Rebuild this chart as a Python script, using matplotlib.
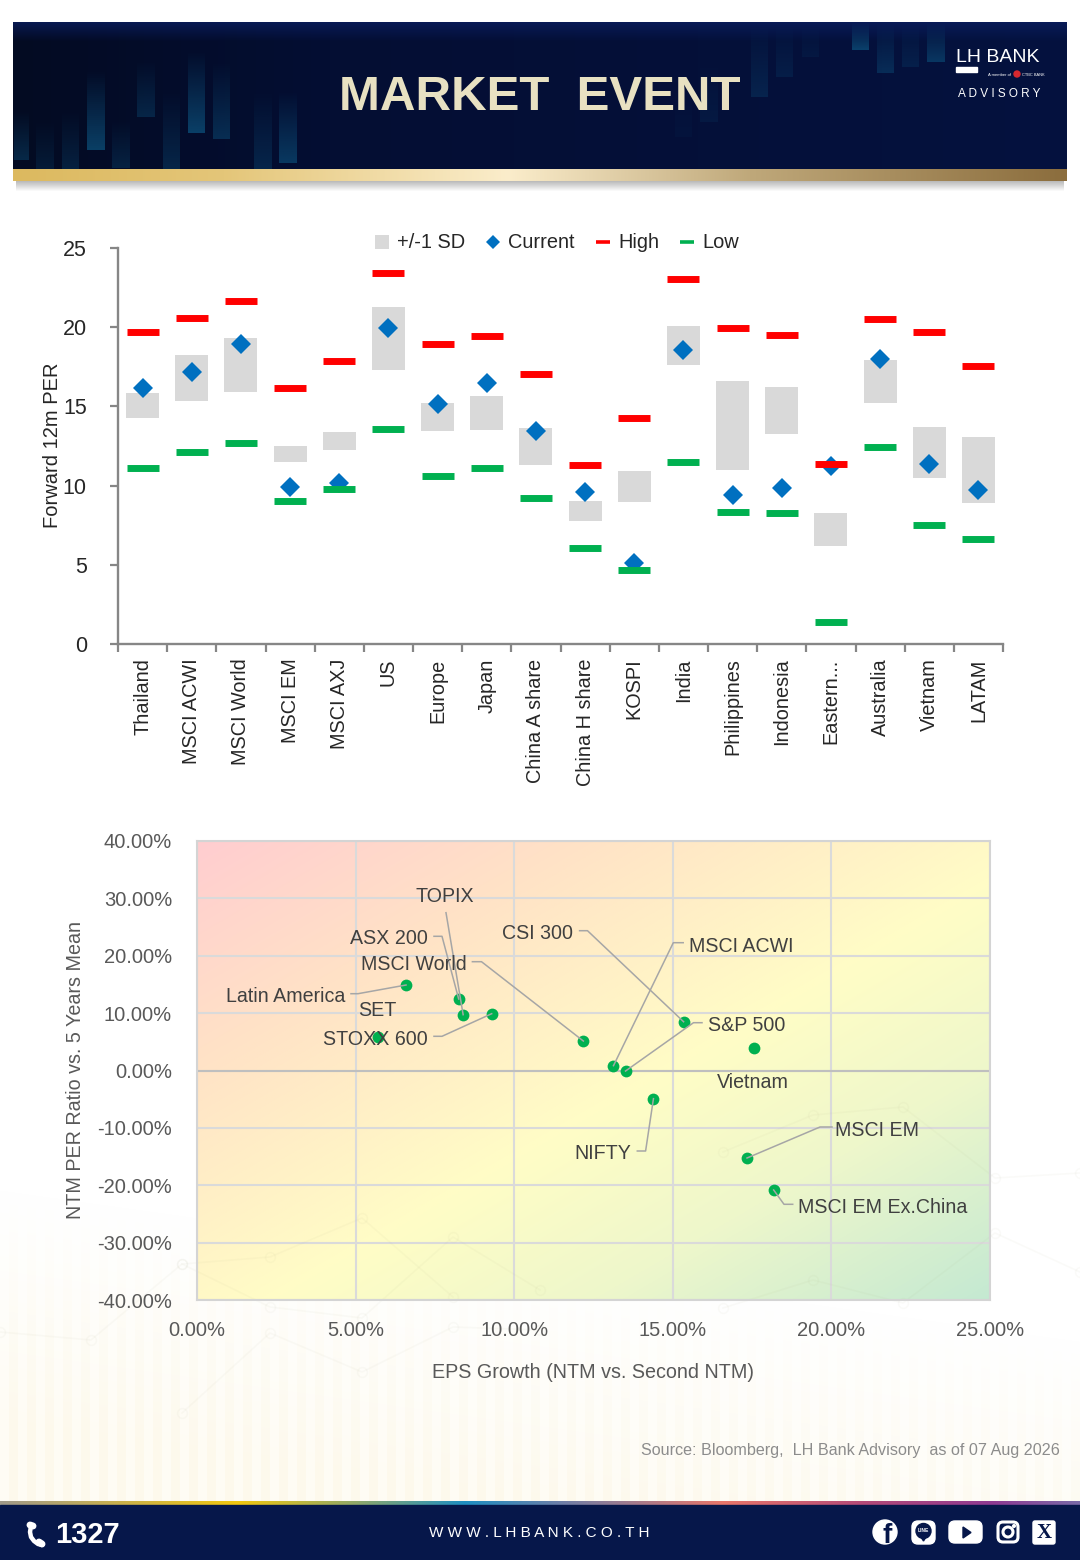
import numpy as np
import matplotlib
matplotlib.use("Agg")
import matplotlib.pyplot as plt
from matplotlib.lines import Line2D
from matplotlib.patches import Rectangle, FancyBboxPatch, Circle, Polygon
from matplotlib.colors import to_rgb
from matplotlib.transforms import ScaledTranslation

plt.rcParams['font.family'] = ['Liberation Sans', 'DejaVu Sans']

W, H = 1080, 1560

# --- forward PER chart ---
markets = ['Thailand', 'MSCI ACWI', 'MSCI World', 'MSCI EM', 'MSCI AXJ', 'US', 'Europe', 'Japan',
           'China A share', 'China H share', 'KOSPI', 'India', 'Philippines', 'Indonesia',
           'Eastern...', 'Australia', 'Vietnam', 'LATAM']
per_high = [19.67, 20.56, 21.67, 16.18, 17.84, 23.40, 18.93, 19.46, 17.04,
            11.27, 14.26, 23.02, 19.95, 19.52, 11.39, 20.51, 19.69, 17.54]
per_low = [11.10, 12.15, 12.66, 9.00, 9.77, 13.58, 10.59, 11.10, 9.22,
           6.09, 4.70, 11.48, 8.32, 8.26, 1.41, 12.43, 7.52, 6.63]
per_current = [16.15, 17.17, 18.91, 9.94, 10.19, 19.95, 15.14, 16.45, 13.46,
               9.58, 5.10, 18.58, 9.39, 9.84, 11.23, 18.01, 11.39, 9.75]
sd_top = [15.86, 18.24, 19.31, 12.49, 13.40, 21.27, 15.20, 15.65, 13.63,
          9.04, 10.93, 20.09, 16.62, 16.22, 8.26, 17.90, 13.69, 13.08]
sd_bottom = [14.26, 15.31, 15.94, 11.50, 12.26, 17.27, 13.46, 13.54, 11.33,
             7.79, 8.99, 17.61, 10.99, 13.23, 6.21, 15.21, 10.51, 8.93]

# --- EPS growth vs PER ratio chart ---
point_names = ['Latin America', 'TOPIX', 'ASX 200', 'STOXX 600', 'SET', 'MSCI World', 'MSCI ACWI',
               'S&P 500', 'CSI 300', 'Vietnam', 'NIFTY', 'MSCI EM', 'MSCI EM Ex.China']
eps_growth = [6.59, 8.39, 8.25, 9.29, 5.71, 12.18, 13.13, 13.51, 15.34, 17.56, 14.39, 17.34, 18.18]
per_ratio = [14.9, 9.73, 12.46, 9.9, 5.79, 5.14, 0.84, -0.09, 8.5, 3.87, -4.91, -15.25, -20.83]

# label position (page pixels), alignment and start of the leader
label_layout = {
    'Latin America': (345, 995, 'right', [(351, 993.7), (358, 993.7)]),
    'TOPIX': (445, 895, 'center', [(446, 912.7)]),
    'ASX 200': (428, 937, 'right', [(434, 936.3), (442, 936.3)]),
    'STOXX 600': (428, 1038, 'right', [(434, 1036.3), (442, 1036.3)]),
    'SET': (377, 1009, 'center', None),
    'MSCI World': (467, 963, 'right', [(472.4, 961.7), (481.5, 961.7)]),
    'MSCI ACWI': (689, 945, 'left', [(683.2, 942.7), (673.3, 942.7)]),
    'S&P 500': (708, 1024, 'left', [(702, 1022.7), (693.5, 1022.7)]),
    'CSI 300': (573, 932, 'right', [(579.6, 930.7), (587.5, 930.7)]),
    'Vietnam': (753, 1081, 'center', None),
    'NIFTY': (631, 1152, 'right', [(637.3, 1151), (645.6, 1151)]),
    'MSCI EM': (835, 1129, 'left', [(832, 1127), (820, 1127)]),
    'MSCI EM Ex.China': (798, 1206, 'left', [(792.7, 1204.3), (784, 1204.3)]),
}

# header decoration bars: x0, x1, y of faded end, y of bright end, strength
rising_bars = [(14, 29, 110, 160, .4), (36, 54, 120, 176, .25), (62, 79, 110, 180, .35),
               (87, 105, 70, 150, .7), (112, 130, 120, 168, .3), (137, 155, 60, 117, .35),
               (163, 180, 90, 170, .35), (188, 205, 50, 133, .7), (213, 230, 60, 139, .45),
               (254, 272, 90, 173, .35), (279, 297, 90, 163, .6)]
hanging_bars = [(852, 869, 22, 50, .7), (877, 894, 22, 73, .4), (902, 919, 22, 67, .22),
                (927, 945, 22, 62, .55), (751, 768, 22, 97, .28), (776, 793, 22, 77, .2),
                (802, 819, 22, 57, .12), (700, 718, 60, 122, .14), (675, 692, 80, 137, .07)]

# faint network lines behind the page (page pixels)
network_lines = [[(0, 1332), (91, 1340), (182, 1264), (270, 1307), (362, 1318), (453, 1237), (540, 1290)],
                 [(182, 1413), (270, 1333), (362, 1372), (453, 1327), (540, 1330)],
                 [(182, 1264), (270, 1257), (362, 1218), (453, 1297)],
                 [(723, 1152), (813, 1115), (903, 1107), (995, 1178), (1080, 1173)],
                 [(723, 1308), (813, 1280), (903, 1303), (995, 1233), (1080, 1272)]]


def fx(x):
    return x / W


def fy(y):
    return 1 - y / H


def hgrad(stops, n=512):
    pos = [s[0] for s in stops]
    cols = np.array([to_rgb(s[1]) for s in stops])
    t = np.linspace(0, 1, n)
    return np.stack([np.interp(t, pos, cols[:, i]) for i in range(3)], axis=-1)[None, :, :]


fig = plt.figure(figsize=(10.8, 15.6), dpi=100, facecolor='white')

# page layer in pixel coordinates
page = fig.add_axes([0, 0, 1, 1], zorder=0)
page.axis('off')

# cream stripes fading in at the bottom of the page
yy, xx = np.mgrid[0:H, 0:W]
fade = np.clip((yy - (1190 + 0.14 * xx)) / 240, 0, 1)[..., None]
stripes = ((xx // 9) % 2)[..., None]
tint = stripes * np.array(to_rgb('#FDF9EC')) + (1 - stripes) * np.array(to_rgb('#FEFCF4'))
page.imshow(1 - fade * (1 - tint), extent=(0, W, H, 0), aspect='auto', zorder=0)

# header
shadow = np.zeros((14, 2, 4))
shadow[..., 3] = np.linspace(.35, 0, 14)[:, None]
page.imshow(shadow, extent=(16, 1064, 192, 178), aspect='auto', zorder=1)
page.imshow(hgrad([(0, '#030B22'), (.3, '#040E33'), (1, '#05123F')]), extent=(13, 1067, 170, 22), aspect='auto', zorder=1)
top_glow = np.zeros((20, 2, 4))
top_glow[..., :3] = to_rgb('#0A1E60')
top_glow[..., 3] = np.linspace(.75, 0, 20)[:, None]
page.imshow(top_glow, extent=(13, 1067, 42, 22), aspect='auto', zorder=1)
for x0, x1, y0, y1, a in rising_bars + hanging_bars:
    bar = np.zeros((40, 2, 4))
    bar[..., :3] = to_rgb('#0D5580')
    bar[..., 3] = np.linspace(0, a, 40)[:, None]
    page.imshow(bar, extent=(x0, x1, y1, y0), aspect='auto', zorder=2)
page.imshow(hgrad([(0, '#DCB95F'), (.2, '#E4C679'), (.47, '#FBEDCB'), (.7, '#BFA87A'), (1, '#8B6D3D')]),
            extent=(13, 1067, 181, 169), aspect='auto', zorder=3)

page.text(540, 98, 'MARKET  EVENT', fontsize=35.5, fontweight='bold', color='#E8E1C2',
          ha='center', va='center', zorder=5)
page.text(998, 58, 'LH BANK', fontsize=14, color='white', ha='center', va='center', zorder=5)
page.add_patch(Rectangle((956, 67), 21, 5, color='white', zorder=5))
page.text(1011, 74.5, 'A member of', fontsize=3, color='white', ha='right', va='center', zorder=5)
page.add_patch(Circle((1017, 74), 3, color='#D8282F', zorder=5))
page.text(1022, 74.5, 'CTBC BANK', fontsize=2.8, color='white', ha='left', va='center', zorder=5)
page.text(999, 94, 'A D V I S O R Y', fontsize=8.5, color='white', ha='center', va='center', zorder=5)

# footer
page.imshow(hgrad([(0, '#A09A8A'), (.22, '#F2C80F'), (.33, '#8FA86A'), (.43, '#1E8FC2'), (.52, '#6E7FA8'),
                   (.67, '#E8766A'), (.8, '#B44A78'), (.92, '#8E3A92'), (1, '#7A6AA8')]),
            extent=(0, W, 1505, 1501), aspect='auto', zorder=3)
page.add_patch(Rectangle((0, 1505), W, 55, color='#06174A', zorder=3))
page.text(55, 1535, '1327', fontsize=21, fontweight='bold', color='white', ha='left', va='center', zorder=5)
# handset
page.plot([31, 30, 31, 34, 38, 42], [1526, 1532, 1537, 1541, 1544, 1545], color='white', lw=3.2,
          solid_capstyle='round', zorder=5)
page.plot([30, 33], [1525, 1526], color='white', lw=5, solid_capstyle='round', zorder=5)
page.plot([39, 42], [1542, 1544], color='white', lw=5, solid_capstyle='round', zorder=5)
page.text(539, 1533, 'W W W . L H B A N K . C O . T H', fontsize=11, color='white', ha='center', va='center', zorder=5)

# social icons
page.add_patch(Circle((885, 1532), 12, color='white', zorder=5))
page.text(887, 1536, 'f', fontsize=20, fontweight='bold', color='#06174A', ha='center', va='center', zorder=6)
page.add_patch(FancyBboxPatch((915, 1524), 17, 17, boxstyle='round,pad=3,rounding_size=6', color='white', zorder=5))
page.add_patch(Circle((923.5, 1531), 7.5, color='#06174A', zorder=6))
page.add_patch(Polygon([(921, 1537), (926, 1537), (923.5, 1541)], color='#06174A', zorder=6))
page.text(923.5, 1531, 'LINE', fontsize=3.5, fontweight='bold', color='white', ha='center', va='center', zorder=7)
page.add_patch(FancyBboxPatch((953, 1525), 25, 14, boxstyle='round,pad=4,rounding_size=6', color='white', zorder=5))
page.add_patch(Polygon([(963, 1527), (963, 1538), (971, 1532.5)], color='#06174A', zorder=6))
page.add_patch(FancyBboxPatch((999, 1523), 18, 18, boxstyle='round,pad=1,rounding_size=5', facecolor='none', edgecolor='white', linewidth=2.2, zorder=5))
page.add_patch(Circle((1008, 1532), 5, facecolor='none', edgecolor='white', linewidth=2.2, zorder=5))
page.add_patch(Circle((1014, 1526), 1.3, color='white', zorder=5))
page.add_patch(FancyBboxPatch((1035, 1523), 18, 19, boxstyle='round,pad=2,rounding_size=2', color='white', zorder=5))
page.text(1044, 1532.5, 'X', fontsize=15, fontweight='bold', family='Liberation Serif', color='#06174A', ha='center', va='center', zorder=6)

page.set_xlim(0, W)
page.set_ylim(H, 0)

# forward PER chart
ax1 = fig.add_axes([fx(118), fy(644), fx(1003 - 118), (644 - 248) / H], zorder=1)
ax1.patch.set_alpha(0)
xpos = np.arange(len(markets))
ax1.bar(xpos, np.array(sd_top) - np.array(sd_bottom), bottom=sd_bottom, width=0.67, color='#D9D9D9', zorder=2)
ax1.plot(xpos, per_current, ls='none', marker='D', ms=10.6, color='#0070C0', mew=0, zorder=3)
ax1.plot(xpos, per_high, ls='none', marker='_', ms=22.5, mew=5, color='#FF0000', zorder=4)
ax1.plot(xpos, per_low, ls='none', marker='_', ms=22.5, mew=5, color='#00B050', zorder=4)
ax1.set_xlim(-0.5, len(markets) - 0.5)
ax1.set_ylim(0, 25)
ax1.set_yticks([0, 5, 10, 15, 20, 25])
ax1.set_xticks(xpos)
ax1.set_xticklabels(markets, rotation=90, fontsize=14.3, color='#262626')
shift = ScaledTranslation(2.5 / 72, 0, fig.dpi_scale_trans)
for lab in ax1.get_xticklabels():
    lab.set_transform(lab.get_transform() + shift)
ax1.set_xticks(np.arange(len(markets) + 1) - 0.5, minor=True)
ax1.tick_params(axis='x', which='major', length=0, pad=10.5)
ax1.tick_params(axis='x', which='minor', length=6, width=1.6, color='#868686')
ax1.tick_params(axis='y', length=5.5, width=1.6, color='#868686', pad=17, labelsize=15.5, labelcolor='#262626')
for s in ['top', 'right']:
    ax1.spines[s].set_visible(False)
for s in ['left', 'bottom']:
    ax1.spines[s].set_color('#868686')
    ax1.spines[s].set_linewidth(1.7)
page.text(53, 445, 'Forward 12m PER', rotation=90, fontsize=14.5, color='#262626', ha='center', va='center')

handles = [Line2D([], [], ls='none', marker='s', ms=10, color='#D9D9D9', mew=0),
           Line2D([], [], ls='none', marker='D', ms=7.2, color='#0070C0', mew=0),
           Line2D([], [], ls='none', marker='_', ms=10.5, mew=2.6, color='#FF0000'),
           Line2D([], [], ls='none', marker='_', ms=10.5, mew=2.6, color='#00B050')]
fig.legend(handles, ['+/-1 SD', 'Current', 'High', 'Low'], ncol=4, loc='center', frameon=False,
           bbox_to_anchor=(fx(556), fy(243)), fontsize=14.4, labelcolor='#262626',
           handlelength=0.9, handletextpad=0.3, columnspacing=0.95)

# EPS growth chart
ax2 = fig.add_axes([fx(197), fy(1300), fx(990 - 197), (1300 - 841) / H], zorder=1)
u, v = np.meshgrid(np.linspace(0, 1, 300), np.linspace(0, 1, 300))
t = (u + v) / 2
stops = [0, .25, .55, .75, 1]
cols = np.array([to_rgb(c) for c in ['#FFCDD0', '#FFE3C6', '#FFFDC6', '#EEF7CB', '#C4E9D2']])
grad = np.stack([np.interp(t, stops, cols[:, i]) for i in range(3)], axis=-1)
ax2.imshow(grad, extent=(0, 25, -40, 40), aspect='auto', origin='upper', zorder=0)
ax2.set_xlim(0, 25)
ax2.set_ylim(-40, 40)
ax2.set_xticks(np.arange(0, 26, 5))
ax2.set_yticks(np.arange(-40, 41, 10))
ax2.set_xticklabels([f'{v:.2f}%' for v in np.arange(0, 26, 5)])
ax2.set_yticklabels([f'{v:.2f}%' for v in np.arange(-40, 41, 10)])
ax2.grid(color='#DADADA', linewidth=1.5, zorder=1)
ax2.axhline(0, color='#BFBFBF', linewidth=1.5, zorder=1)
ax2.tick_params(length=0, labelsize=14.5, labelcolor='#595959')
ax2.tick_params(axis='y', pad=18)
ax2.tick_params(axis='x', pad=15)
ax2.set_axisbelow(True)
for s in ax2.spines.values():
    s.set_color('#D4D4D4')
    s.set_linewidth(1.5)
ax2.scatter(eps_growth, per_ratio, s=72, color='#00B050', linewidths=0, zorder=3)

for line in network_lines:
    xs = [p[0] for p in line]
    ys = [p[1] for p in line]
    ax2.plot(xs, ys, transform=page.transData, color='#9A9A70', linewidth=1.2, alpha=.045, zorder=2, clip_on=False)
    ax2.plot(xs, ys, transform=page.transData, ls='none', marker='o', ms=7, mfc='none', mec='#9A9A70', mew=1.1,
             alpha=.045, zorder=2, clip_on=False)

to_page = page.transData.inverted()
for name, x, y in zip(point_names, eps_growth, per_ratio):
    lx, ly, ha, leader = label_layout[name]
    ax2.text(lx, ly + 1.5, name, transform=page.transData, fontsize=14.1, color='#404040', ha=ha, va='center',
             zorder=6, clip_on=False)
    if leader:
        end = to_page.transform(ax2.transData.transform((x, y)))
        xs = [p[0] for p in leader] + [end[0]]
        ys = [p[1] for p in leader] + [end[1]]
        ax2.plot(xs, ys, transform=page.transData, color='#A6A6A6', linewidth=1.1, zorder=5, clip_on=False)
ax2.set_xlim(0, 25)
ax2.set_ylim(-40, 40)

page.text(76, 1070, 'NTM PER Ratio vs. 5 Years Mean', rotation=90, fontsize=14.2, color='#595959', ha='center', va='center')
page.text(593, 1372, 'EPS Growth (NTM vs. Second NTM)', fontsize=14.2, color='#595959', ha='center', va='center')
page.text(1060, 1451, 'Source: Bloomberg,  LH Bank Advisory  as of 07 Aug 2026', fontsize=11.6, color='#8C8C8C', ha='right', va='center')

fig.savefig('out.png', dpi=100)
